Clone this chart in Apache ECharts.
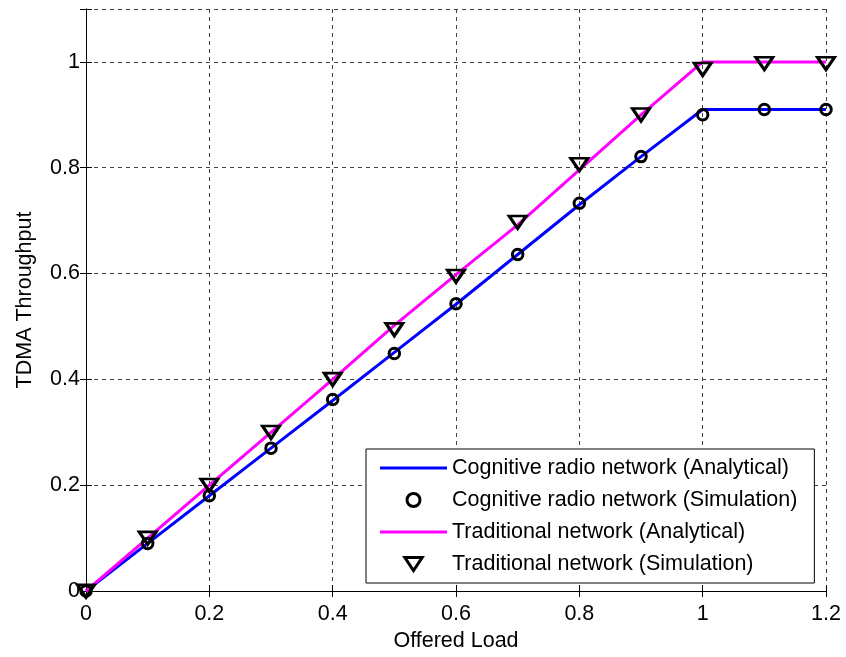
<!DOCTYPE html>
<html>
<head>
<meta charset="utf-8">
<script src="https://cdn.jsdelivr.net/npm/echarts@6/dist/echarts.min.js"></script>
<style>html,body{margin:0;padding:0;background:#fff}#c{width:846px;height:657px}</style>
</head>
<body>
<div id="c"></div>
<script>
var offeredLoad = [0, 0.1, 0.2, 0.3, 0.4, 0.5, 0.6, 0.7, 0.8, 0.9, 1.0, 1.1, 1.2];
var crnAnalytical = [0, 0.09, 0.18, 0.27, 0.36, 0.451, 0.542, 0.636, 0.73, 0.821, 0.91, 0.91, 0.91];
var crnSimulation = [0, 0.09, 0.18, 0.27, 0.362, 0.449, 0.543, 0.636, 0.733, 0.821, 0.90, 0.91, 0.91];
var tradAnalytical = [0, 0.1, 0.2, 0.3, 0.4, 0.502, 0.598, 0.692, 0.796, 0.9, 1.0, 1.0, 1.0];
var tradSimulation = [0, 0.1, 0.2, 0.3, 0.4, 0.494, 0.595, 0.697, 0.806, 0.9, 0.986, 0.997, 0.997];
var seriesNames = ['Cognitive radio network (Analytical)', 'Cognitive radio network (Simulation)', 'Traditional network (Analytical)', 'Traditional network (Simulation)'];
var xTicks = {min: 0, max: 1.2, interval: 0.2};
var yTicks = {min: 0, max: 1.1, interval: 0.2};

function pairs(xs, ys) { return xs.map(function (x, i) { return [x, ys[i]]; }); }
var FONT = 'Liberation Sans, Arial, Helvetica, sans-serif';
var downTri = 'path://M0,0 L20,0 L10,15 Z';
var lineIcon = 'path://M0,0 L100,0 L100,4.5 L0,4.5 Z';

var chart = echarts.init(document.getElementById('c'), null, {renderer: 'canvas'});
chart.setOption({
  animation: false,
  backgroundColor: '#fff',
  grid: {left: 86, right: 20, top: 9, bottom: 63},
  legend: {
    orient: 'vertical', left: 366, top: 449,
    backgroundColor: '#fff', borderColor: '#000', borderWidth: 1,
    padding: [8, 17, 8, 14],
    itemWidth: 67, itemHeight: 13, itemGap: 10, itemTextGap: 11,
    textStyle: {fontFamily: FONT, fontSize: 21.5, color: '#000', lineHeight: 22},
    data: [
      {name: seriesNames[0], icon: lineIcon},
      {name: seriesNames[1], itemStyle: {borderWidth: 3}},
      {name: seriesNames[2], icon: lineIcon},
      {name: seriesNames[3], itemStyle: {borderWidth: 3}}
    ]
  },
  xAxis: [{
    type: 'value', min: xTicks.min, max: xTicks.max, interval: xTicks.interval,
    name: 'Offered Load', nameLocation: 'middle', nameGap: 39,
    nameTextStyle: {fontFamily: FONT, fontSize: 21.5, color: '#000'},
    axisLine: {lineStyle: {color: '#000', width: 1}},
    axisTick: {inside: true, length: 6, lineStyle: {color: '#000'}},
    axisLabel: {fontFamily: FONT, fontSize: 21.5, color: '#000', margin: 12,
      formatter: function (v) { return String(+v.toFixed(1)); }},
    splitLine: {show: true, lineStyle: {color: '#444', type: [4, 4], width: 1}}
  }, {
    type: 'value', position: 'top', min: xTicks.min, max: xTicks.max, interval: xTicks.interval,
    axisLine: {show: true, lineStyle: {color: '#000', width: 1}},
    axisTick: {show: true, inside: true, length: 6, lineStyle: {color: '#000'}},
    axisLabel: {show: false}, splitLine: {show: false}
  }],
  yAxis: [{
    type: 'value', min: yTicks.min, max: yTicks.max, interval: yTicks.interval,
    name: 'TDMA Throughput', nameLocation: 'middle', nameGap: 50,
    nameTextStyle: {fontFamily: FONT, fontSize: 21.5, color: '#000'},
    axisLine: {show: true, lineStyle: {color: '#000', width: 1}},
    axisTick: {show: true, inside: true, length: 6, lineStyle: {color: '#000'}},
    axisLabel: {fontFamily: FONT, fontSize: 21.5, color: '#000', margin: 6,
      formatter: function (v) { var r = Math.round(v * 10) / 10; return (Math.round(r * 10) % 2 === 0) ? String(r) : ''; }},
    splitLine: {show: true, lineStyle: {color: '#444', type: [4, 4], width: 1}}
  }, {
    type: 'value', position: 'right', min: yTicks.min, max: yTicks.max, interval: yTicks.interval,
    axisLine: {show: true, lineStyle: {color: '#000', width: 1}},
    axisTick: {show: true, inside: true, length: 6, lineStyle: {color: '#000'}},
    axisLabel: {show: false}, splitLine: {show: false}
  }],
  series: [{
    name: seriesNames[0], type: 'line', data: pairs(offeredLoad, crnAnalytical),
    symbol: 'none', lineStyle: {color: '#0000ff', width: 3}, itemStyle: {color: '#0000ff'}, z: 2
  }, {
    name: seriesNames[2], type: 'line', data: pairs(offeredLoad, tradAnalytical),
    symbol: 'none', lineStyle: {color: '#ff00ff', width: 3}, itemStyle: {color: '#ff00ff'}, z: 2
  }, {
    name: seriesNames[1], type: 'scatter', data: pairs(offeredLoad, crnSimulation),
    symbol: 'circle', symbolSize: 10.5,
    itemStyle: {color: 'rgba(0,0,0,0)', borderColor: '#000', borderWidth: 3, opacity: 1}, z: 3
  }, {
    name: seriesNames[3], type: 'scatter', data: pairs(offeredLoad, tradSimulation),
    symbol: downTri, symbolSize: [17, 12.5], symbolKeepAspect: false,
    itemStyle: {color: 'rgba(0,0,0,0)', borderColor: '#000', borderWidth: 3, opacity: 1}, z: 3
  }]
});
</script>
</body>
</html>
